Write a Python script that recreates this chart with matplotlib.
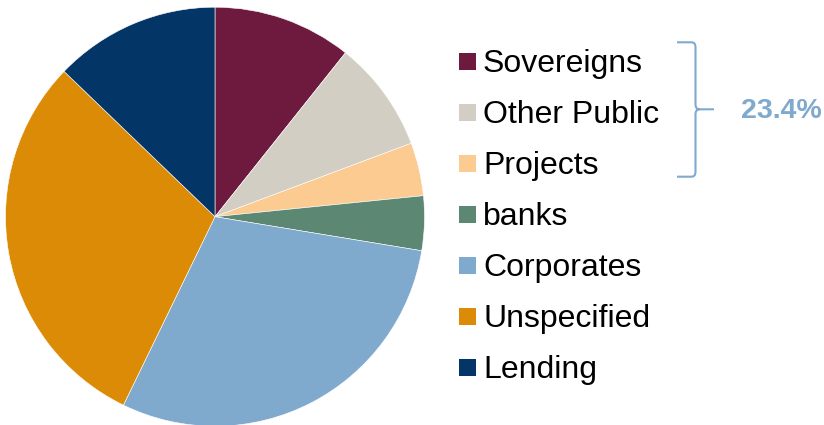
import matplotlib.pyplot as plt
from matplotlib.patches import Rectangle
from matplotlib.path import Path
from matplotlib.patches import PathPatch

plt.rcParams['font.family'] = ['Liberation Sans', 'DejaVu Sans']

labels = ['Sovereigns', 'Other Public', 'Projects', 'banks', 'Corporates', 'Unspecified', 'Lending']
shares = [10.7, 8.6, 4.1, 4.2, 29.6, 30.0, 12.8]
colors = ['#6D1A3E', '#D3CEC4', '#FBCB92', '#5C8772', '#80A9CE', '#DB8B05', '#033667']
public_total = '23.4%'

W, H = 824, 425
fig = plt.figure(figsize=(W / 100, H / 100), dpi=100)

# pie: centre (215, 216.7) px from top-left, radius ~209.5 px
cx, cy, r = 215, 216.7, 209.5
ax = fig.add_axes([(cx - r) / W, (H - cy - r) / H, 2 * r / W, 2 * r / H])
ax.pie(shares, colors=colors, startangle=90, counterclock=False, radius=1,
       wedgeprops=dict(edgecolor='white', linewidth=0.4))
ax.set_xlim(-1, 1)
ax.set_ylim(-1, 1)
ax.set_aspect('equal')
ax.axis('off')

# legend drawn by hand, one row every 51 px
sq = 16.5
for i, (lab, col) in enumerate(zip(labels, colors)):
    yc = 61.7 + 51 * i
    fig.add_artist(Rectangle((459 / W, (H - yc - sq / 2) / H), sq / W, sq / H,
                             transform=fig.transFigure, facecolor=col, edgecolor='none'))
    fig.text(483 / W, (H - (yc + 10.5)) / H, lab, fontsize=23, color='black',
             ha='left', va='baseline')

# curly bracket grouping the first three categories
bc = '#80A9CE'
top, bot, mid = 42.3, 176.7, 109.3
xl, xv, xt = 677, 695.5, 714
pts = [(xl, top), (xv - 4, top), (xv, top), (xv, top + 5),
       (xv, mid - 5), (xv, mid), (xv + 4, mid), (xt, mid),
       (xv + 4, mid), (xv, mid), (xv, mid + 5),
       (xv, bot - 5), (xv, bot), (xv - 4, bot), (xl, bot)]
codes = [Path.MOVETO, Path.LINETO, Path.CURVE3, Path.CURVE3,
         Path.LINETO, Path.CURVE3, Path.CURVE3, Path.LINETO,
         Path.MOVETO, Path.CURVE3, Path.CURVE3,
         Path.LINETO, Path.CURVE3, Path.CURVE3, Path.LINETO]
verts = [(x / W, (H - y) / H) for x, y in pts]
fig.add_artist(PathPatch(Path(verts, codes), transform=fig.transFigure,
                         facecolor='none', edgecolor=bc, linewidth=1.5))
fig.text(741 / W, (H - 118) / H, public_total, fontsize=20.5, fontweight='bold',
         color=bc, ha='left', va='baseline')

fig.savefig('out.png', dpi=100, facecolor='white')
